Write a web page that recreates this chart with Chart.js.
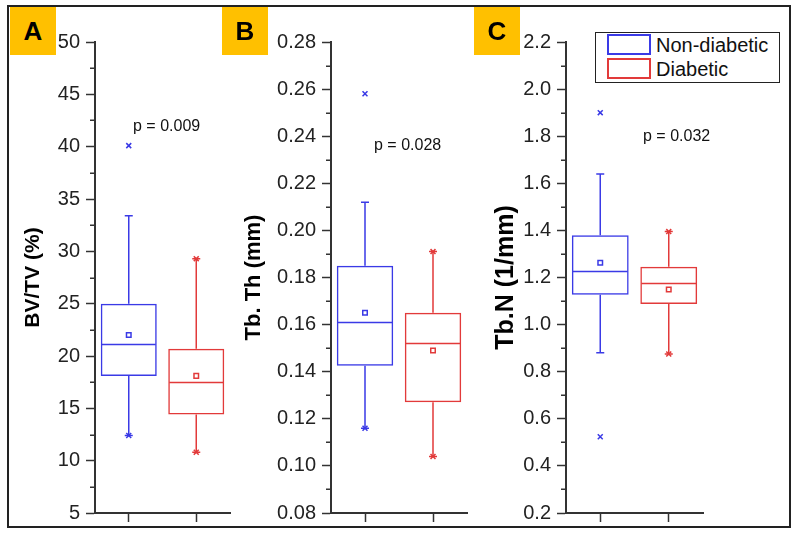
<!DOCTYPE html>
<html lang="en">
<head>
<meta charset="UTF-8">
<title>BV/TV, Tb.Th, Tb.N</title>
<style>
    body {
        margin: 0;
        padding: 0;
        background: #fff;
        font-family: "Liberation Sans", Arial, sans-serif;
    }
    .frame {
        position: absolute;
        left: 7px;
        top: 5px;
        width: 784px;
        height: 523px;
        border: 2px solid #222;
        box-sizing: border-box;
    }
    canvas {
        position: absolute;
        top: 0;
    }
    .tag {
        position: absolute;
        top: 7px;
        width: 46px;
        height: 48px;
        background: #FFC000;
        font-weight: bold;
        font-size: 26px;
        line-height: 48px;
        text-align: center;
        color: #000;
    }
    .pval {
        position: absolute;
        font-size: 16px;
        color: #111;
        white-space: nowrap;
    }
    .legend {
        position: absolute;
        left: 595px;
        top: 32px;
        width: 185px;
        height: 51px;
        border: 1.5px solid #222;
        box-sizing: border-box;
        background: #fff;
    }
    .legend .sw {
        position: absolute;
        left: 11px;
        width: 44px;
        height: 21px;
        border: 2px solid;
        box-sizing: border-box;
    }
    .legend .lb {
        position: absolute;
        left: 60px;
        font-size: 20px;
        line-height: 22px;
        color: #111;
    }
</style>
</head>
<body>
    <div class="frame"></div>
    <canvas id="chartA" width="240" height="539" style="left:0"></canvas>
    <canvas id="chartB" width="240" height="539" style="left:240px"></canvas>
    <canvas id="chartC" width="310" height="539" style="left:480px"></canvas>

    <div class="tag" style="left:10px">A</div>
    <div class="tag" style="left:222px">B</div>
    <div class="tag" style="left:474px">C</div>

    <div class="pval" style="left:133px; top:117px">p = 0.009</div>
    <div class="pval" style="left:374px; top:136px">p = 0.028</div>
    <div class="pval" style="left:643px; top:127px">p = 0.032</div>

    <div class="legend">
        <div class="sw" style="top:1px; border-color:#3a3ae6"></div>
        <div class="lb" style="top:1px">Non-diabetic</div>
        <div class="sw" style="top:25px; border-color:#e23a3a"></div>
        <div class="lb" style="top:25px">Diabetic</div>
    </div>

<script src="https://cdn.jsdelivr.net/npm/chart.js@4.4.1/dist/chart.umd.min.js"></script>
<script>
(function() {
    'use strict';

    const groups = ['Non-diabetic', 'Diabetic'];
    const colors = ['#3a3ae6', '#e23a3a'];

    // A - BV/TV (%)
    const bvtvLow = [12.4, 10.8];
    const bvtvQ1 = [18.1, 14.4];
    const bvtvMedian = [21.1, 17.5];
    const bvtvQ3 = [25.0, 20.7];
    const bvtvHigh = [33.4, 29.3];
    const bvtvMean = [22.0, 18.1];
    const bvtvExtremeNon = [40.1, 12.4];
    const bvtvExtremeDia = [29.3, 10.8];
    const bvtvAxis = [5, 50, 5];

    // B - Tb.Th (mm)
    const tbthLow = [0.116, 0.104];
    const tbthQ1 = [0.1425, 0.127];
    const tbthMedian = [0.161, 0.152];
    const tbthQ3 = [0.185, 0.165];
    const tbthHigh = [0.212, 0.191];
    const tbthMean = [0.165, 0.149];
    const tbthExtremeNon = [0.258, 0.116];
    const tbthExtremeDia = [0.191, 0.104];
    const tbthAxis = [0.08, 0.28, 0.02];

    // C - Tb.N (1/mm)
    const tbnLow = [0.88, 0.875];
    const tbnQ1 = [1.127, 1.087];
    const tbnMedian = [1.229, 1.175];
    const tbnQ3 = [1.379, 1.246];
    const tbnHigh = [1.64, 1.395];
    const tbnMean = [1.263, 1.149];
    const tbnExtremeNon = [1.90, 0.524];
    const tbnExtremeDia = [1.395, 0.875];
    const tbnAxis = [0.2, 2.2, 0.2];

    const font = '"Liberation Sans", Arial, sans-serif';
    const axisColor = '#333';

    // whiskers, caps, medians and minor ticks
    const boxPlugin = {
        id: 'boxWhisker',
        beforeDatasetsDraw(chart, args, opts) {
            const ctx = chart.ctx;
            const x = chart.scales.x;
            const y = chart.scales.y;
            const bars = chart.getDatasetMeta(0).data;
            ctx.save();
            ctx.lineWidth = 1.5;
            opts.median.forEach(function(m, i) {
                const cx = x.getPixelForValue(i);
                const hw = bars[i].width / 2;
                ctx.strokeStyle = colors[i];
                ctx.beginPath();
                ctx.moveTo(cx - hw + 1, Math.round(y.getPixelForValue(m)) + 0.5);
                ctx.lineTo(cx + hw - 1, Math.round(y.getPixelForValue(m)) + 0.5);
                // whiskers
                ctx.moveTo(cx, y.getPixelForValue(opts.q3[i]));
                ctx.lineTo(cx, y.getPixelForValue(opts.high[i]));
                ctx.moveTo(cx, y.getPixelForValue(opts.q1[i]));
                ctx.lineTo(cx, y.getPixelForValue(opts.low[i]));
                // caps
                [opts.high[i], opts.low[i]].forEach(function(v) {
                    const py = y.getPixelForValue(v);
                    ctx.moveTo(cx - 4, py);
                    ctx.lineTo(cx + 4, py);
                });
                ctx.stroke();
            });
            ctx.restore();
        },
        afterDraw(chart) {
            const ctx = chart.ctx;
            const y = chart.scales.y;
            const ticks = y.ticks;
            ctx.save();
            ctx.strokeStyle = axisColor;
            ctx.lineWidth = 1.5;
            ctx.beginPath();
            for (let i = 0; i < ticks.length - 1; i++) {
                const v = (ticks[i].value + ticks[i + 1].value) / 2;
                const py = Math.round(y.getPixelForValue(v)) + 0.25;
                ctx.moveTo(y.right - 5, py);
                ctx.lineTo(y.right, py);
            }
            ctx.stroke();
            ctx.restore();
        }
    };

    function makePanel(id, s) {
        const ctx = document.getElementById(id).getContext('2d');
        return new Chart(ctx, {
            data: {
                labels: groups,
                datasets: [
                    {
                        type: 'bar',
                        data: groups.map(function(g, i) { return [s.q1[i], s.q3[i]]; }),
                        backgroundColor: 'rgba(0,0,0,0)',
                        borderColor: colors,
                        borderWidth: 1.5,
                        borderSkipped: false,
                        barPercentage: 0.83,
                        categoryPercentage: 1,
                        order: 3
                    },
                    {
                        type: 'line',
                        data: s.mean,
                        showLine: false,
                        pointStyle: 'rect',
                        pointRadius: 3.2,
                        pointBorderWidth: 1.5,
                        pointBorderColor: colors,
                        pointBackgroundColor: 'rgba(0,0,0,0)',
                        order: 1
                    },
                    {
                        type: 'line',
                        data: s.extNon.map(function(v) { return {x: groups[0], y: v}; }),
                        showLine: false,
                        pointStyle: 'crossRot',
                        pointRadius: 3.5,
                        pointBorderWidth: 1.5,
                        pointBorderColor: colors[0],
                        order: 0
                    },
                    {
                        type: 'line',
                        data: s.extDia.map(function(v) { return {x: groups[1], y: v}; }),
                        showLine: false,
                        pointStyle: 'crossRot',
                        pointRadius: 3.5,
                        pointBorderWidth: 1.5,
                        pointBorderColor: colors[1],
                        order: 0
                    }
                ]
            },
            options: {
                responsive: false,
                animation: false,
                layout: {
                    padding: {left: 0, right: s.padRight, top: 42, bottom: 0}
                },
                plugins: {
                    legend: {display: false},
                    tooltip: {enabled: false},
                    boxWhisker: {
                        low: s.low, q1: s.q1, median: s.median, q3: s.q3, high: s.high
                    }
                },
                scales: {
                    x: {
                        type: 'category',
                        offset: true,
                        grid: {
                            offset: false,
                            drawOnChartArea: false,
                            tickLength: 9,
                            tickColor: axisColor,
                            tickWidth: 1.5
                        },
                        border: {color: axisColor, width: 2},
                        ticks: {display: false},
                        afterFit: function(sc) { sc.height = 26; }
                    },
                    y: {
                        min: s.axis[0],
                        max: s.axis[1],
                        grid: {
                            drawOnChartArea: false,
                            tickLength: 9,
                            tickColor: axisColor,
                            tickWidth: 1.5
                        },
                        border: {color: axisColor, width: 2},
                        ticks: {
                            stepSize: s.axis[2],
                            padding: 6,
                            color: '#222',
                            font: {family: font, size: 20},
                            callback: function(v) { return v.toFixed(s.digits); }
                        },
                        title: {
                            display: true,
                            text: s.title,
                            color: '#000',
                            font: {family: font, size: s.titleSize, weight: 'bold'},
                            padding: {top: s.titlePad, bottom: 0}
                        },
                        afterFit: function(sc) { sc.width = s.yWidth; }
                    }
                }
            },
            plugins: [boxPlugin]
        });
    }

    makePanel('chartA', {
        low: bvtvLow, q1: bvtvQ1, median: bvtvMedian, q3: bvtvQ3, high: bvtvHigh,
        mean: bvtvMean, extNon: bvtvExtremeNon, extDia: bvtvExtremeDia, axis: bvtvAxis,
        digits: 0, title: 'BV/TV (%)', titleSize: 21, titlePad: 21,
        yWidth: 95, padRight: 10
    });

    makePanel('chartB', {
        low: tbthLow, q1: tbthQ1, median: tbthMedian, q3: tbthQ3, high: tbthHigh,
        mean: tbthMean, extNon: tbthExtremeNon, extDia: tbthExtremeDia, axis: tbthAxis,
        digits: 2, title: 'Tb. Th (mm)', titleSize: 22, titlePad: 1,
        yWidth: 91, padRight: 13
    });

    makePanel('chartC', {
        low: tbnLow, q1: tbnQ1, median: tbnMedian, q3: tbnQ3, high: tbnHigh,
        mean: tbnMean, extNon: tbnExtremeNon, extDia: tbnExtremeDia, axis: tbnAxis,
        digits: 1, title: 'Tb.N (1/mm)', titleSize: 25, titlePad: 11,
        yWidth: 86, padRight: 87
    });
})();
</script>
</body>
</html>
